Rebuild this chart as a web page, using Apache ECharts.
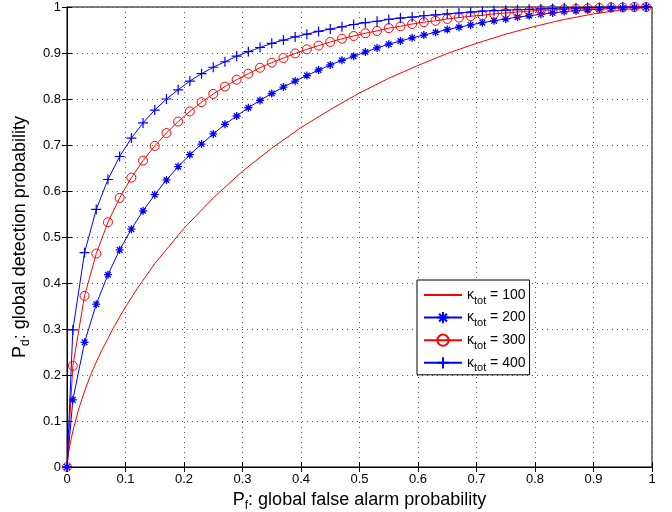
<!DOCTYPE html>
<html>
<head>
<meta charset="utf-8">
<title></title>
<script src="https://cdn.jsdelivr.net/npm/echarts@6/dist/echarts.min.js"></script>
<style>
  html, body { margin: 0; padding: 0; background: #fff; }
  #main { width: 672px; height: 512px; }
</style>
</head>
<body>
<div id="main"></div>
<script>
// false alarm values where markers sit
var pf = [0, 0.01, 0.03, 0.05, 0.07, 0.09, 0.11, 0.13, 0.15, 0.17, 0.19, 0.21, 0.23, 0.25, 0.27, 0.29,
  0.31, 0.33, 0.35, 0.37, 0.39, 0.41, 0.43, 0.45, 0.47, 0.49, 0.51, 0.53, 0.55, 0.57, 0.59, 0.61, 0.63,
  0.65, 0.67, 0.69, 0.71, 0.73, 0.75, 0.77, 0.79, 0.81, 0.83, 0.85, 0.87, 0.89, 0.91, 0.93, 0.95, 0.97, 0.99];

var pd200 = [0, 0.146, 0.271, 0.354, 0.418, 0.472, 0.517, 0.557, 0.592, 0.624, 0.653, 0.679, 0.702, 0.724,
  0.745, 0.763, 0.781, 0.797, 0.812, 0.826, 0.839, 0.851, 0.863, 0.874, 0.884, 0.893, 0.902, 0.911, 0.919,
  0.926, 0.933, 0.939, 0.945, 0.951, 0.956, 0.961, 0.966, 0.970, 0.974, 0.978, 0.981, 0.984, 0.987, 0.990,
  0.992, 0.994, 0.995, 0.997, 0.998, 0.999, 1.000];

var pd300 = [0, 0.220, 0.372, 0.464, 0.532, 0.585, 0.629, 0.666, 0.698, 0.726, 0.751, 0.773, 0.793, 0.811,
  0.827, 0.842, 0.855, 0.868, 0.879, 0.889, 0.899, 0.908, 0.916, 0.924, 0.931, 0.937, 0.943, 0.948, 0.954,
  0.958, 0.963, 0.967, 0.970, 0.974, 0.977, 0.980, 0.982, 0.985, 0.987, 0.989, 0.991, 0.993, 0.994, 0.995,
  0.996, 0.997, 0.998, 0.999, 0.999, 1.000, 1.000];

var pd400 = [0, 0.298, 0.466, 0.560, 0.625, 0.675, 0.715, 0.748, 0.776, 0.800, 0.820, 0.839, 0.855, 0.869,
  0.881, 0.893, 0.903, 0.912, 0.921, 0.928, 0.935, 0.941, 0.947, 0.952, 0.957, 0.962, 0.966, 0.969, 0.973,
  0.976, 0.978, 0.981, 0.983, 0.985, 0.987, 0.989, 0.991, 0.992, 0.993, 0.994, 0.995, 0.996, 0.997, 0.998,
  0.998, 0.999, 0.999, 1.000, 1.000, 1.000, 1.000];

// kappa = 100 is drawn without markers, sampled more finely
var pf100 = [0, 0.002, 0.005, 0.01, 0.02, 0.03, 0.04, 0.05, 0.06, 0.08, 0.10, 0.12, 0.15, 0.20, 0.25, 0.30,
  0.35, 0.40, 0.45, 0.50, 0.55, 0.60, 0.65, 0.70, 0.75, 0.80, 0.85, 0.90, 0.95, 1];
var pd100 = [0, 0.025, 0.048, 0.078, 0.126, 0.165, 0.199, 0.228, 0.255, 0.304, 0.348, 0.388, 0.442, 0.519,
  0.585, 0.643, 0.693, 0.738, 0.777, 0.813, 0.845, 0.873, 0.899, 0.921, 0.941, 0.958, 0.973, 0.985, 0.994, 1];

var names = ['κ100', 'κ200', 'κ300', 'κ400'];
var kappas = ['100', '200', '300', '400'];

var starPath = 'path://M0,5L10,5M5,0L5,10M1.5,1.5L8.5,8.5M1.5,8.5L8.5,1.5';
var plusPath = 'path://M0,5L10,5M5,0L5,10';

function pairs(xs, ys) {
  return xs.map(function (x, i) { return [x, ys[i]]; });
}

var labelFont = 'Liberation Sans';

var chart = echarts.init(document.getElementById('main'));
var option = {
  backgroundColor: '#fff',
  animation: false,
  grid: {
    left: 67, right: 20, top: 7, bottom: 45,
    show: true, borderColor: '#000', borderWidth: 1,
    containLabel: false, outerBoundsMode: 'none'
  },
  legend: {
    orient: 'vertical',
    left: 417, top: 280,
    backgroundColor: '#fff',
    borderColor: '#000', borderWidth: 1, borderRadius: 0,
    padding: [8, 4, 1, 6],
    itemGap: 3.5,
    itemWidth: 38, itemHeight: 14,
    data: [
      { name: names[0], itemStyle: { opacity: 0 } },
      names[1], names[2], names[3]
    ],
    formatter: function (name) {
      return '{k|κ}{s|tot}{k| = ' + kappas[names.indexOf(name)] + '}';
    },
    textStyle: {
      color: '#000',
      fontFamily: labelFont,
      rich: {
        k: { fontSize: 14, fontFamily: labelFont, color: '#000' },
        s: { fontSize: 11, fontFamily: labelFont, color: '#000', padding: [11, 0, 0, 0] }
      }
    }
  },
  xAxis: [{
    type: 'value', min: 0, max: 1, interval: 0.1,
    name: '{a|P}{b|f}{a|: global false alarm probability}',
    nameLocation: 'middle', nameGap: 19,
    nameTextStyle: {
      rich: {
        a: { fontSize: 18, fontFamily: labelFont, color: '#000' },
        b: { fontSize: 12, fontFamily: labelFont, color: '#000', padding: [11, 0, 0, 0] }
      }
    },
    axisLine: { show: true, lineStyle: { color: '#000', width: 1 } },
    axisTick: { show: true, inside: true, length: 5, lineStyle: { color: '#000' } },
    axisLabel: { color: '#000', fontSize: 13, fontFamily: labelFont, margin: 6 },
    splitLine: { show: true, lineStyle: { color: '#555', type: [1, 4], width: 1 } }
  }, {
    type: 'value', min: 0, max: 1, interval: 0.1, position: 'top',
    axisLine: { show: true, lineStyle: { color: '#000' } },
    axisTick: { show: true, inside: true, length: 5, lineStyle: { color: '#000' } },
    axisLabel: { show: false },
    splitLine: { show: false }
  }],
  yAxis: [{
    type: 'value', min: 0, max: 1, interval: 0.1,
    name: '{a|P}{b|d}{a|: global detection probability}',
    nameLocation: 'middle', nameGap: 33, nameRotate: 90,
    nameTextStyle: {
      rich: {
        a: { fontSize: 18, fontFamily: labelFont, color: '#000' },
        b: { fontSize: 12, fontFamily: labelFont, color: '#000', padding: [11, 0, 0, 0] }
      }
    },
    axisLine: { show: true, lineStyle: { color: '#000', width: 1 } },
    axisTick: { show: true, inside: true, length: 5, lineStyle: { color: '#000' } },
    axisLabel: { color: '#000', fontSize: 13, fontFamily: labelFont, margin: 6 },
    splitLine: { show: true, lineStyle: { color: '#555', type: [1, 4], width: 1 } }
  }, {
    type: 'value', min: 0, max: 1, interval: 0.1, position: 'right',
    axisLine: { show: true, lineStyle: { color: '#000' } },
    axisTick: { show: true, inside: true, length: 5, lineStyle: { color: '#000' } },
    axisLabel: { show: false },
    splitLine: { show: false }
  }],
  series: [{
    name: names[0], type: 'line',
    data: pairs(pf100, pd100),
    symbol: 'none',
    lineStyle: { color: '#ff0000', width: 1 },
    itemStyle: { color: '#ff0000' }
  }, {
    name: names[1], type: 'line',
    data: pairs(pf, pd200),
    symbol: starPath, symbolSize: 8, showAllSymbol: true,
    lineStyle: { color: '#0000ff', width: 1 },
    itemStyle: { color: 'none', borderColor: '#0000ff', borderWidth: 1.3 }
  }, {
    name: names[2], type: 'line',
    data: pairs(pf, pd300),
    symbol: 'circle', symbolSize: 9, showAllSymbol: true,
    lineStyle: { color: '#ff0000', width: 1 },
    itemStyle: { color: 'none', borderColor: '#ff0000', borderWidth: 1 }
  }, {
    name: names[3], type: 'line',
    data: pairs(pf, pd400),
    symbol: plusPath, symbolSize: 10, showAllSymbol: true,
    lineStyle: { color: '#0000ff', width: 1 },
    itemStyle: { color: 'none', borderColor: '#0000ff', borderWidth: 1.2 }
  }]
};
chart.setOption(option);
</script>
</body>
</html>
